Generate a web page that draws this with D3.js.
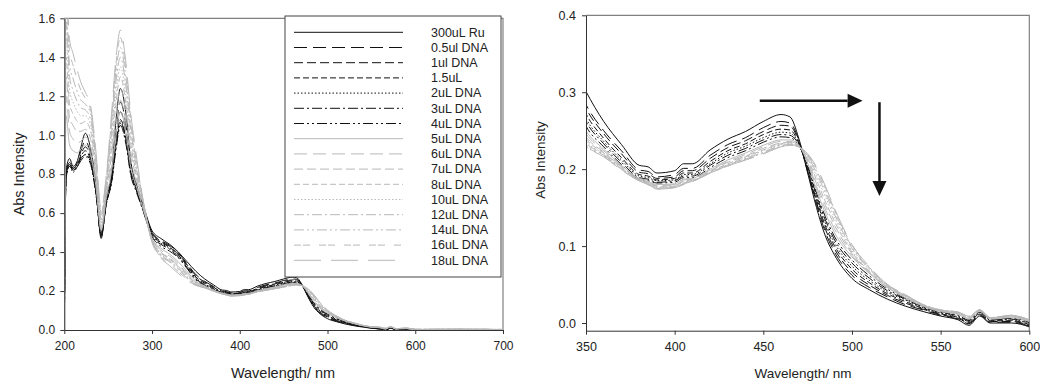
<!DOCTYPE html>
<html>
<head>
<meta charset="utf-8">
<script src="https://cdn.jsdelivr.net/npm/d3@7"></script>
<style>
  body { margin: 0; background: #fff; }
  svg { font-family: Arial, "Liberation Sans", sans-serif; }
  .axis path, .axis line { stroke: #333; }
  .axis text { fill: #222; }
</style>
</head>
<body>
<svg id="chart" width="1040" height="382"></svg>
<script>
// wavelength grid shared by every spectrum (nm)
const wavelengths = [200,202,206,210,215,219,224,230,236,242,248,254,259,264,270,276,282,290,300,310,320,330,340,
  350,360,370,380,385,390,400,405,410,420,430,440,450,460,465,470,475,480,485,490,500,510,520,530,540,550,560,566,572,578,590,600,650,700];

// absorbance, one array per titration step
const ru300 = [0.00,0.82,0.88,0.84,0.87,0.94,1.01,0.93,0.75,0.47,0.68,0.81,1.08,1.24,1.12,0.86,0.75,0.64,0.51,0.47,0.44,0.40,0.35,
  0.301,0.262,0.232,0.205,0.203,0.195,0.198,0.207,0.207,0.225,0.239,0.249,0.262,0.271,0.268,0.240,0.195,0.150,0.113,0.089,0.058,0.043,0.031,0.022,0.015,0.009,0.004,-0.003,0.009,0.000,0.000,-0.005,0.000,0.000];
const dna05 = [0.00,0.80,0.86,0.83,0.86,0.92,0.97,0.90,0.73,0.48,0.67,0.79,1.03,1.17,1.06,0.84,0.74,0.63,0.50,0.46,0.435,0.395,0.34,
  0.284,0.250,0.224,0.199,0.197,0.190,0.193,0.201,0.201,0.218,0.232,0.241,0.254,0.262,0.260,0.238,0.197,0.154,0.118,0.093,0.062,0.046,0.034,0.024,0.017,0.010,0.005,-0.001,0.010,0.001,0.001,-0.004,0.001,0.000];
const dna1 = [0.00,0.79,0.85,0.82,0.85,0.90,0.94,0.88,0.72,0.48,0.66,0.78,0.99,1.12,1.02,0.82,0.73,0.63,0.50,0.455,0.43,0.39,0.335,
  0.279,0.246,0.220,0.196,0.194,0.188,0.190,0.198,0.198,0.214,0.228,0.237,0.249,0.257,0.256,0.236,0.198,0.157,0.122,0.097,0.066,0.049,0.036,0.026,0.018,0.011,0.006,0.000,0.011,0.002,0.002,-0.003,0.001,0.000];
const dna15 = [0.00,0.78,0.84,0.82,0.84,0.89,0.92,0.87,0.71,0.49,0.65,0.77,0.96,1.08,0.99,0.81,0.72,0.62,0.49,0.45,0.425,0.385,0.33,
  0.272,0.240,0.215,0.193,0.191,0.186,0.188,0.195,0.195,0.210,0.224,0.233,0.245,0.252,0.251,0.234,0.199,0.160,0.126,0.101,0.070,0.052,0.038,0.028,0.019,0.012,0.007,0.001,0.012,0.003,0.003,-0.002,0.002,0.001];
const dna2 = [0.00,0.78,0.84,0.81,0.84,0.88,0.90,0.86,0.70,0.49,0.65,0.76,0.94,1.06,0.97,0.80,0.72,0.62,0.49,0.445,0.42,0.38,0.325,
  0.266,0.236,0.212,0.191,0.189,0.185,0.186,0.193,0.193,0.207,0.221,0.230,0.241,0.248,0.247,0.233,0.201,0.163,0.130,0.105,0.074,0.055,0.040,0.030,0.020,0.013,0.008,0.002,0.013,0.004,0.004,-0.001,0.002,0.001];
const dna3 = [0.00,0.79,0.85,0.82,0.84,0.87,0.89,0.85,0.70,0.50,0.65,0.76,0.93,1.05,0.96,0.79,0.71,0.61,0.48,0.44,0.415,0.375,0.32,
  0.262,0.233,0.209,0.189,0.187,0.183,0.185,0.191,0.191,0.205,0.218,0.227,0.238,0.245,0.244,0.232,0.203,0.166,0.134,0.109,0.078,0.058,0.042,0.031,0.021,0.014,0.009,0.003,0.014,0.004,0.005,0.000,0.002,0.001];
const dna4 = [0.00,0.80,0.86,0.83,0.85,0.88,0.90,0.86,0.71,0.50,0.66,0.77,0.95,1.07,0.98,0.80,0.72,0.61,0.48,0.43,0.405,0.37,0.315,
  0.256,0.229,0.206,0.187,0.185,0.182,0.183,0.189,0.189,0.202,0.215,0.224,0.235,0.242,0.241,0.231,0.205,0.169,0.138,0.113,0.082,0.061,0.044,0.032,0.022,0.015,0.010,0.004,0.015,0.005,0.006,0.001,0.003,0.001];
const dna5 = [0.00,1.10,0.95,0.92,0.91,0.93,0.95,0.90,0.74,0.51,0.68,0.82,1.00,1.12,1.02,0.83,0.74,0.62,0.47,0.42,0.39,0.35,0.30,
  0.250,0.226,0.205,0.188,0.184,0.180,0.181,0.187,0.188,0.200,0.212,0.221,0.231,0.238,0.238,0.231,0.208,0.173,0.143,0.118,0.086,0.064,0.046,0.033,0.022,0.015,0.011,0.005,0.015,0.005,0.007,0.002,0.003,0.002];
const dna6 = [0.00,1.20,1.02,0.98,0.96,0.97,0.99,0.94,0.77,0.52,0.70,0.86,1.05,1.18,1.07,0.87,0.76,0.63,0.47,0.41,0.38,0.34,0.29,
  0.246,0.224,0.204,0.187,0.183,0.179,0.180,0.186,0.187,0.199,0.210,0.219,0.229,0.236,0.236,0.230,0.210,0.177,0.148,0.123,0.088,0.065,0.046,0.034,0.022,0.015,0.012,0.006,0.016,0.006,0.008,0.002,0.003,0.002];
const dna7 = [0.00,1.30,1.09,1.05,1.02,1.02,1.03,0.98,0.80,0.53,0.72,0.90,1.11,1.24,1.12,0.91,0.78,0.64,0.47,0.40,0.37,0.33,0.285,
  0.242,0.222,0.203,0.187,0.182,0.178,0.179,0.185,0.186,0.198,0.209,0.217,0.227,0.234,0.235,0.230,0.212,0.181,0.153,0.128,0.090,0.066,0.047,0.034,0.023,0.016,0.012,0.006,0.016,0.006,0.008,0.003,0.004,0.002];
const dna8 = [0.00,1.40,1.16,1.11,1.07,1.06,1.07,1.02,0.82,0.55,0.74,0.94,1.17,1.30,1.17,0.95,0.80,0.65,0.46,0.395,0.365,0.325,0.28,
  0.239,0.221,0.202,0.186,0.182,0.177,0.178,0.184,0.185,0.197,0.207,0.216,0.225,0.233,0.234,0.230,0.214,0.186,0.158,0.133,0.092,0.067,0.048,0.035,0.023,0.016,0.013,0.007,0.016,0.006,0.009,0.003,0.004,0.002];
const dna10 = [0.00,1.50,1.23,1.17,1.12,1.10,1.10,1.05,0.84,0.56,0.75,0.98,1.22,1.35,1.21,0.98,0.82,0.65,0.46,0.39,0.36,0.32,0.275,
  0.236,0.220,0.201,0.186,0.181,0.176,0.178,0.183,0.185,0.196,0.206,0.215,0.224,0.232,0.233,0.229,0.216,0.191,0.164,0.138,0.094,0.069,0.048,0.035,0.023,0.016,0.013,0.008,0.017,0.007,0.009,0.003,0.004,0.003];
const dna12 = [0.00,1.58,1.30,1.23,1.17,1.14,1.13,1.08,0.86,0.57,0.76,1.02,1.28,1.40,1.26,1.02,0.84,0.66,0.46,0.385,0.355,0.315,0.27,
  0.234,0.219,0.200,0.185,0.181,0.175,0.177,0.182,0.184,0.196,0.205,0.214,0.222,0.231,0.232,0.229,0.217,0.195,0.169,0.142,0.097,0.070,0.049,0.036,0.024,0.016,0.013,0.008,0.017,0.007,0.009,0.003,0.004,0.003];
const dna14 = [0.00,1.65,1.36,1.29,1.22,1.18,1.16,1.11,0.88,0.59,0.78,1.06,1.33,1.45,1.30,1.05,0.86,0.66,0.455,0.38,0.35,0.31,0.265,
  0.232,0.218,0.200,0.185,0.180,0.175,0.177,0.181,0.184,0.195,0.205,0.213,0.221,0.230,0.232,0.229,0.218,0.198,0.173,0.146,0.099,0.071,0.049,0.036,0.024,0.017,0.014,0.009,0.017,0.007,0.010,0.004,0.004,0.003];
const dna16 = [0.00,1.72,1.43,1.36,1.28,1.23,1.19,1.13,0.90,0.60,0.79,1.09,1.37,1.50,1.34,1.08,0.88,0.66,0.455,0.375,0.34,0.30,0.26,
  0.230,0.217,0.199,0.185,0.180,0.174,0.176,0.180,0.184,0.195,0.204,0.212,0.220,0.229,0.231,0.229,0.219,0.201,0.176,0.148,0.101,0.072,0.050,0.037,0.024,0.017,0.014,0.009,0.017,0.007,0.010,0.004,0.004,0.003];
const dna18 = [0.00,1.80,1.49,1.42,1.33,1.27,1.22,1.15,0.92,0.62,0.80,1.12,1.40,1.54,1.38,1.10,0.90,0.66,0.45,0.37,0.33,0.29,0.255,
  0.229,0.216,0.199,0.185,0.180,0.174,0.176,0.180,0.184,0.195,0.204,0.212,0.220,0.229,0.231,0.229,0.220,0.203,0.178,0.150,0.102,0.073,0.050,0.037,0.024,0.017,0.014,0.009,0.017,0.007,0.010,0.004,0.004,0.003];

const seriesNames = ["300uL Ru","0.5ul DNA","1ul DNA","1.5uL","2uL DNA","3uL DNA","4uL DNA","5uL DNA","6uL DNA",
  "7uL DNA","8uL DNA","10uL DNA","12uL DNA","14uL DNA","16uL DNA","18uL DNA"];
const seriesValues = [ru300,dna05,dna1,dna15,dna2,dna3,dna4,dna5,dna6,dna7,dna8,dna10,dna12,dna14,dna16,dna18];

const leftXTicks = [200,300,400,500,600,700];
const leftYTicks = [0,0.2,0.4,0.6,0.8,1.0,1.2,1.4,1.6];
const rightXTicks = [350,400,450,500,550,600];
const rightYTicks = [0,0.1,0.2,0.3,0.4];

// line styles: the seven black patterns repeat in grey, then two extra grey patterns
const dashes = [null,"13,6","9,4","6,3","1.5,2","10,3,2,3","10,3,2,3,2,3",
  null,"13,6","9,4","6,3","1.5,2","10,3,2,3","10,3,2,3,2,3","7,2,7,9","27,10"];
const colorOf = i => i < 7 ? "#111" : "#b8b8b8";

const data = seriesValues.map((vals, i) => ({
  name: seriesNames[i],
  dash: dashes[i],
  color: colorOf(i),
  points: wavelengths.map((w, j) => ({ x: w, y: vals[j] }))
}));

const svg = d3.select("#chart");

function drawPanel(cfg) {
  const x = d3.scaleLinear().domain(cfg.xDomain).range(cfg.xRange);
  const y = d3.scaleLinear().domain(cfg.yDomain).range(cfg.yRange);
  const g = svg.append("g");

  g.append("clipPath").attr("id", cfg.id + "-clip")
    .append("rect")
    .attr("x", cfg.xRange[0]).attr("y", cfg.yRange[1])
    .attr("width", cfg.xRange[1] - cfg.xRange[0]).attr("height", cfg.yRange[0] - cfg.yRange[1]);

  // top and right frame
  g.append("path")
    .attr("d", "M" + cfg.xRange[0] + "," + cfg.yRange[1] + "H" + cfg.xRange[1] + "V" + cfg.yRange[0])
    .attr("fill", "none").attr("stroke", "#808080").attr("stroke-width", 1.2);

  const line = d3.line().x(d => x(d.x)).y(d => y(d.y)).curve(d3.curveMonotoneX);
  g.append("g").attr("clip-path", "url(#" + cfg.id + "-clip)")
    .selectAll("path")
    .data(data)
    .enter()
    .append("path")
    .attr("d", d => line(d.points.filter(p => p.x >= cfg.xDomain[0] - 10 && p.x <= cfg.xDomain[1] + 10)))
    .attr("fill", "none")
    .attr("stroke", d => d.color)
    .attr("stroke-width", 1)
    .attr("stroke-dasharray", d => d.dash);

  g.append("g").attr("class", "axis")
    .attr("transform", "translate(0," + cfg.yRange[0] + ")")
    .call(d3.axisBottom(x).tickValues(cfg.xTicks).tickSize(4).tickSizeOuter(0).tickPadding(7))
    .call(a => a.selectAll("text").style("font-size", cfg.tickFont + "px"));

  g.append("g").attr("class", "axis")
    .attr("transform", "translate(" + cfg.xRange[0] + ",0)")
    .call(d3.axisLeft(y).tickValues(cfg.yTicks).tickFormat(d3.format(".1f")).tickSize(4).tickSizeOuter(0).tickPadding(cfg.yPad))
    .call(a => a.selectAll("text").style("font-size", cfg.tickFont + "px"));

  g.append("text")
    .attr("transform", "translate(" + cfg.yTitleX + "," + cfg.yTitleY + ") rotate(-90)")
    .attr("text-anchor", "middle").attr("dy", "0.35em")
    .style("font-size", cfg.titleFont + "px").attr("fill", "#222")
    .text("Abs Intensity");

  g.append("text")
    .attr("x", cfg.xTitleX).attr("y", cfg.xTitleY)
    .attr("text-anchor", "middle")
    .style("font-size", cfg.titleFont + "px").attr("fill", "#222")
    .text("Wavelength/ nm");

  return { g: g, x: x, y: y };
}

const left = drawPanel({
  id: "left", xDomain: [200, 700], xRange: [64.3, 503], yDomain: [0, 1.6], yRange: [330, 18.3],
  xTicks: leftXTicks, yTicks: leftYTicks, tickFont: 12, yPad: 5, titleFont: 14.5,
  yTitleX: 19, yTitleY: 174, xTitleX: 283, xTitleY: 378
});

const right = drawPanel({
  id: "right", xDomain: [350, 600], xRange: [586, 1029.3], yDomain: [-0.01, 0.4], yRange: [330.7, 15.3],
  xTicks: rightXTicks, yTicks: rightYTicks, tickFont: 12.5, yPad: 6, titleFont: 13.5,
  yTitleX: 540, yTitleY: 160, xTitleX: 803, xTitleY: 378
});

// legend box in the left panel
const legend = left.g.append("g");
legend.append("rect")
  .attr("x", 285).attr("y", 16).attr("width", 216).attr("height", 261)
  .attr("fill", "#fff").attr("stroke", "#444").attr("stroke-width", 1);

const rows = legend.selectAll("g.row")
  .data(data)
  .enter()
  .append("g")
  .attr("class", "row")
  .attr("transform", (d, i) => "translate(0," + (32.3 + i * 15.2) + ")");

rows.append("line")
  .attr("x1", 294).attr("x2", 403)
  .attr("stroke", d => d.color).attr("stroke-width", 1)
  .attr("stroke-dasharray", d => d.dash);

rows.append("text")
  .attr("x", 431).attr("dy", "0.35em")
  .style("font-size", "12.5px").attr("fill", "#222")
  .text(d => d.name);

// arrows in the right panel (positions in data units)
const arrowRight = { x0: 448, x1: 506, y: 0.289 };
const arrowDown = { x: 515.5, y0: 0.287, y1: 0.165 };
const headLen = 15, headHalf = 7;

const ax0 = right.x(arrowRight.x0), ax1 = right.x(arrowRight.x1), ay = right.y(arrowRight.y);
right.g.append("line").attr("x1", ax0).attr("x2", ax1 - headLen).attr("y1", ay).attr("y2", ay)
  .attr("stroke", "#111").attr("stroke-width", 2.5);
right.g.append("path")
  .attr("d", "M" + ax1 + "," + ay + "L" + (ax1 - headLen) + "," + (ay - headHalf) + "L" + (ax1 - headLen) + "," + (ay + headHalf) + "Z")
  .attr("fill", "#111");

const vx = right.x(arrowDown.x), vy0 = right.y(arrowDown.y0), vy1 = right.y(arrowDown.y1);
right.g.append("line").attr("x1", vx).attr("x2", vx).attr("y1", vy0).attr("y2", vy1 - headLen)
  .attr("stroke", "#111").attr("stroke-width", 2.5);
right.g.append("path")
  .attr("d", "M" + vx + "," + vy1 + "L" + (vx - headHalf) + "," + (vy1 - headLen) + "L" + (vx + headHalf) + "," + (vy1 - headLen) + "Z")
  .attr("fill", "#111");
</script>
</body>
</html>
